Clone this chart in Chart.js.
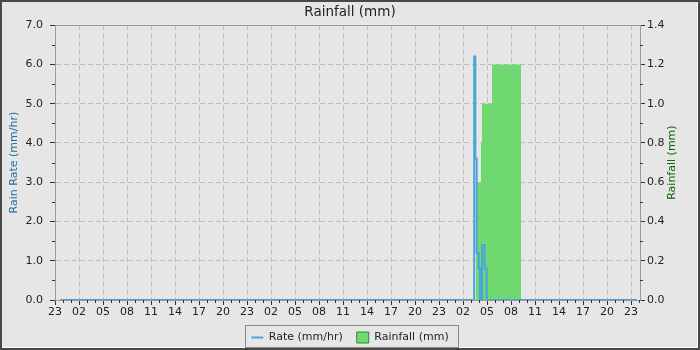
<!DOCTYPE html>
<html>
<head>
<meta charset="utf-8">
<script src="https://cdn.jsdelivr.net/npm/chart.js@4/dist/chart.umd.min.js"></script>
<style>
  html, body { margin: 0; padding: 0; background: #484848; }
  #wrap { position: absolute; left: 0; top: 0; width: 700px; height: 350px; box-sizing: border-box;
          border: 2px solid #484848; background: #e6e6e6; box-shadow: inset -1px -1px 0 #ffffff; }
  canvas { display: block; }
</style>
</head>
<body>
<div id="wrap"><canvas id="c" width="696" height="346"></canvas></div>
<script>
// Hours since 23:00 on the first day
const startHour = 23;
const xMax = 73.125;

// Rain rate (mm/hr), step series: [hour, value]
const rateHours  = [0.625, 52.40, 52.54, 52.71, 52.96, 53.125, 53.375, 53.70, 53.96, 72.75];
const rateValues = [0,     6.2,   3.6,   1.2,   0.8,   0,      1.4,    0.8,   0,     0];

// Rainfall (mm), cumulative step series
const rainHours  = [52.625, 53.25, 53.375, 54.625, 58.25];
const rainValues = [0.6,    0.8,   1.0,    1.2,    1.2];

const leftTicks  = [0, 1, 2, 3, 4, 5, 6, 7];
const rightTicks = [0, 0.2, 0.4, 0.6, 0.8, 1.0, 1.2, 1.4];

const BLUE = '#4aa3dc';
const GREEN = '#70d870';
const GRID = '#bdbdbd';
const AXIS = '#9a9a9a';
const TXT = '#222222';
const FONT = 'DejaVu Sans';

const pts = (xs, ys) => xs.map((x, i) => ({ x: x, y: ys[i] }));

const framePlugin = {
  id: 'frame',
  beforeUpdate(chart) {
    const lg = chart.legend;
    if (lg && !lg._patched) {
      const orig = lg.fit;
      lg.fit = function () { orig.call(this); this.height = 28; };
      lg._patched = true;
    }
  },
  afterDatasetsDraw(chart) {
    const a = chart.chartArea, ctx = chart.ctx;
    ctx.save();
    ctx.strokeStyle = AXIS;
    ctx.lineWidth = 1;
    ctx.strokeRect(Math.round(a.left) + 0.5, Math.round(a.top) + 0.5,
                   Math.round(a.right - a.left), Math.round(a.bottom - a.top));
    // minor tick marks
    ctx.strokeStyle = '#333';
    ctx.beginPath();
    const sx = chart.scales.x;
    for (let h = 1; h < xMax; h++) {
      if (h % 3 === 0) continue;
      const px = Math.round(sx.getPixelForValue(h)) + 0.5;
      ctx.moveTo(px, Math.round(a.bottom)); ctx.lineTo(px, Math.round(a.bottom) + 3);
    }
    const sy = chart.scales.y;
    for (let v = 0.5; v < 7; v += 1) {
      const py = Math.round(sy.getPixelForValue(v)) + 0.5;
      ctx.moveTo(Math.round(a.left) - 3, py); ctx.lineTo(Math.round(a.left), py);
    }
    const sy2 = chart.scales.y2;
    for (let v = 0.1; v < 1.4; v += 0.2) {
      const py = Math.round(sy2.getPixelForValue(v)) + 0.5;
      ctx.moveTo(Math.round(a.right), py); ctx.lineTo(Math.round(a.right) + 3, py);
    }
    ctx.stroke();
    ctx.restore();
  },
  afterDraw(chart) {
    const ctx = chart.ctx;
    // right axis title, reading bottom-to-top
    const s2 = chart.scales.y2;
    ctx.save();
    ctx.translate(s2.right - 26, (chart.chartArea.top + chart.chartArea.bottom) / 2);
    ctx.rotate(-Math.PI / 2);
    ctx.fillStyle = '#0a640a';
    ctx.font = '11px "' + FONT + '"';
    ctx.textAlign = 'center';
    ctx.textBaseline = 'middle';
    ctx.fillText('Rainfall (mm)', 0, 0);
    ctx.restore();

    const lg = chart.legend;
    if (!lg || !lg.legendHitBoxes || !lg.legendHitBoxes.length) return;
    const hb = lg.legendHitBoxes;
    let l = Infinity, r = -Infinity, t = Infinity, b = -Infinity;
    hb.forEach(h => { l = Math.min(l, h.left); r = Math.max(r, h.left + h.width);
                      t = Math.min(t, h.top); b = Math.max(b, h.top + h.height); });
    ctx.save();
    ctx.strokeStyle = '#888888';
    ctx.lineWidth = 1;
    const L = Math.round(l - 6), T = Math.round(t - 7), R = Math.round(r + 9), B = Math.round(b + 4);
    ctx.strokeRect(L + 0.5, T + 0.5, R - L, B - T);
    ctx.restore();
  }
};

new Chart(document.getElementById('c'), {
  type: 'line',
  data: {
    datasets: [
      {
        label: 'Rate (mm/hr)',
        data: pts(rateHours, rateValues),
        yAxisID: 'y',
        borderColor: BLUE,
        backgroundColor: BLUE,
        borderWidth: 2,
        stepped: true,
        pointRadius: 0,
        fill: false
      },
      {
        label: 'Rainfall (mm)',
        data: pts(rainHours, rainValues),
        yAxisID: 'y2',
        borderColor: GREEN,
        backgroundColor: GREEN,
        borderWidth: 0,
        stepped: true,
        pointRadius: 0,
        fill: 'origin'
      }
    ]
  },
  options: {
    responsive: false,
    animation: false,
    layout: { padding: { left: 0, right: 0, top: 0, bottom: 2 } },
    plugins: {
      title: {
        display: true, text: 'Rainfall (mm)', color: TXT,
        font: { family: FONT, size: 13.5, weight: 'normal' },
        padding: { top: 2, bottom: 5 }
      },
      legend: {
        position: 'bottom',
        labels: {
          font: { family: FONT, size: 11 },
          color: TXT,
          usePointStyle: true,
          pointStyleWidth: 12,
          padding: 14,
          generateLabels(chart) {
            return [
              { text: 'Rate (mm/hr)', pointStyle: 'line', strokeStyle: BLUE, fillStyle: BLUE, lineWidth: 2, datasetIndex: 0, fontColor: TXT },
              { text: 'Rainfall (mm)', pointStyle: 'rect', strokeStyle: '#2c8a2c', fillStyle: GREEN, lineWidth: 1, datasetIndex: 1, fontColor: TXT }
            ];
          }
        }
      },
      tooltip: { enabled: false }
    },
    scales: {
      x: {
        type: 'linear', min: 0, max: xMax,
        afterFit(s) { s.height = 18; },
        border: { display: true, color: AXIS, dash: [5, 3] },
        grid: {
          color: c => (c.tick && c.tick.value > 0) ? GRID : 'rgba(0,0,0,0)',
          tickColor: '#333', tickLength: 5
        },
        ticks: {
          stepSize: 3, autoSkip: false, maxRotation: 0, includeBounds: false, maxTicksLimit: 200,
          color: TXT, font: { family: FONT, size: 11 }, padding: 1,
          callback: v => String((startHour + v) % 24).padStart(2, '0')
        }
      },
      y: {
        position: 'left', min: 0, max: 7,
        afterFit(s) { s.width = 53; },
        border: { display: true, color: AXIS, dash: [5, 3] },
        grid: {
          color: c => (c.tick && c.tick.value > 0 && c.tick.value < 7) ? GRID : 'rgba(0,0,0,0)',
          tickColor: '#333', tickLength: 5
        },
        ticks: {
          stepSize: 1, autoSkip: false, color: TXT, font: { family: FONT, size: 11 }, padding: 7,
          callback: v => leftTicks.includes(v) ? v.toFixed(1) : ''
        },
        title: { display: true, text: 'Rain Rate (mm/hr)', color: '#1f6ea8', font: { family: FONT, size: 11 }, padding: { top: 6, bottom: 0 } }
      },
      y2: {
        position: 'right', min: 0, max: 1.4,
        afterFit(s) { s.width = 58; },
        border: { display: true, color: AXIS },
        grid: { drawOnChartArea: false, tickColor: '#333', tickLength: 5 },
        ticks: {
          stepSize: 0.2, autoSkip: false, color: TXT, font: { family: FONT, size: 11 }, padding: 2,
          callback: v => rightTicks.some(t => Math.abs(t - v) < 1e-6) ? v.toFixed(1) : ''
        }
      }
    }
  },
  plugins: [framePlugin]
});
</script>
</body>
</html>
